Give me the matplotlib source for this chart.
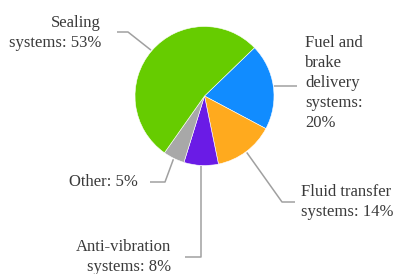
import numpy as np
import matplotlib
matplotlib.use("Agg")
import matplotlib.pyplot as plt

labels = ["Fuel and\nbrake\ndelivery\nsystems:\n20%", "Fluid transfer\nsystems: 14%",
          "Anti-vibration\nsystems: 8%", "Other: 5%", "Sealing\nsystems: 53%"]
values = [20, 14, 8, 5, 53]
colors = ["#118cff", "#ffaa1e", "#6a1be6", "#a8a8a8", "#66cc00"]

W, H = 395, 274
fig = plt.figure(figsize=(W / 100, H / 100), dpi=100)
ax = fig.add_axes([0, 0, 1, 1])

cx, cy, R = 204.5, 96, 69.5
wedges, _ = ax.pie(values, colors=colors, startangle=44, counterclock=False,
                   center=(cx, H - cy), radius=R,
                   wedgeprops=dict(edgecolor="white", linewidth=0.4))
ax.set_xlim(0, W)
ax.set_ylim(0, H)
ax.set_aspect("equal")
ax.axis("off")

layout = [
    dict(path=[(297, None)], text=(305, 83), ha="left"),
    dict(path=[(282, 202), (295, 202)], text=(301, 202), ha="left"),
    dict(path=[(None, 257), (185, 257)], text=(171, 257), ha="right"),
    dict(path=[(165, 182), (150, 182)], text=(138, 182), ha="right"),
    dict(path=[(128, 32), (117, 32)], text=(101, 33), ha="right"),
]
lc = "#a0a0a0"
tc = "#3a3a3a"
for w, lab, lay in zip(wedges, labels, layout):
    mid = np.deg2rad((w.theta1 + w.theta2) / 2)
    sx = cx + (R + 1) * np.cos(mid)
    sy = cy - (R + 1) * np.sin(mid)
    pts = [(sx, sy)]
    for (px, py) in lay["path"]:
        px = sx if px is None else px
        py = sy if py is None else py
        pts.append((px, py))
    xs = [p[0] for p in pts]
    ys = [H - p[1] for p in pts]
    ax.plot(xs, ys, color=lc, lw=1.1, solid_capstyle="butt")
    tx, ty = lay["text"]
    ax.text(tx, H - ty, lab, ha=lay["ha"], va="center", fontsize=12,
            family="Liberation Serif", color=tc, linespacing=1.32,
            multialignment=lay["ha"])

fig.savefig("out.png", dpi=100)
